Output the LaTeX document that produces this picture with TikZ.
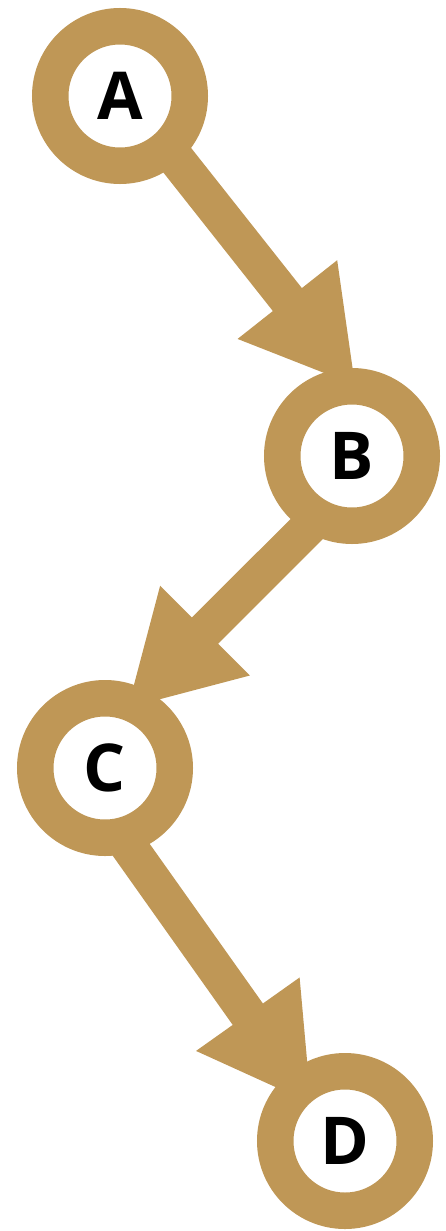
\documentclass[tikz,border=0pt]{standalone}
\usepackage{fontspec}
\setmainfont{Open Sans}
\usetikzlibrary{calc,backgrounds}
\definecolor{tan}{RGB}{191,151,86}
\tikzset{
  ring/.style={circle, draw=tan, line width=36.5pt, fill=white,
    minimum size=139.5pt, inner sep=0pt, outer sep=0pt,
    font=\fontsize{66}{70}\selectfont\bfseries, text=black},
  edgeshaft/.style={draw=tan, line width=37pt},
  edgehead/.style={fill=tan},
}
\newcommand{\thickarrow}[3]{% #1 start coord, #2 tip coord, #3 id
  \coordinate (h#3) at ($(#2)!109pt!(#1)$);
  \draw[edgeshaft, shorten <=-16pt] (#1) -- ($(#2)!100pt!(#1)$);
  \fill[edgehead] (#2) -- ($(h#3)!63.5pt!90:(#2)$) -- ($(h#3)!63.5pt!-90:(#2)$) -- cycle;
}
\begin{document}
\begin{tikzpicture}[x=1pt,y=-1pt]
\useasboundingbox (0,0) rectangle (445,1231);
\node[ring] (A) at (120,96) {A};
\node[ring] (B) at (352,456) {B};
\node[ring] (C) at (105,768) {C};
\node[ring] (D) at (345,1141) {D};
\begin{pgfonlayer}{background}
  \coordinate (s1) at ([shift={(-48.3:86pt)}]A.center);
  \coordinate (t1) at ([shift={(87.6:71pt)}]B.center);
  \thickarrow{s1}{t1}{1}
  \coordinate (s2) at ([shift={(-122:87pt)}]B.center);
  \coordinate (t2) at ([shift={(69.2:64.6pt)}]C.center);
  \thickarrow{s2}{t2}{2}
  \coordinate (s3) at ([shift={(-72:87pt)}]C.center);
  \coordinate (t3) at ([shift={(132:51pt)}]D.center);
  \thickarrow{s3}{t3}{3}
\end{pgfonlayer}
\end{tikzpicture}
\end{document}
